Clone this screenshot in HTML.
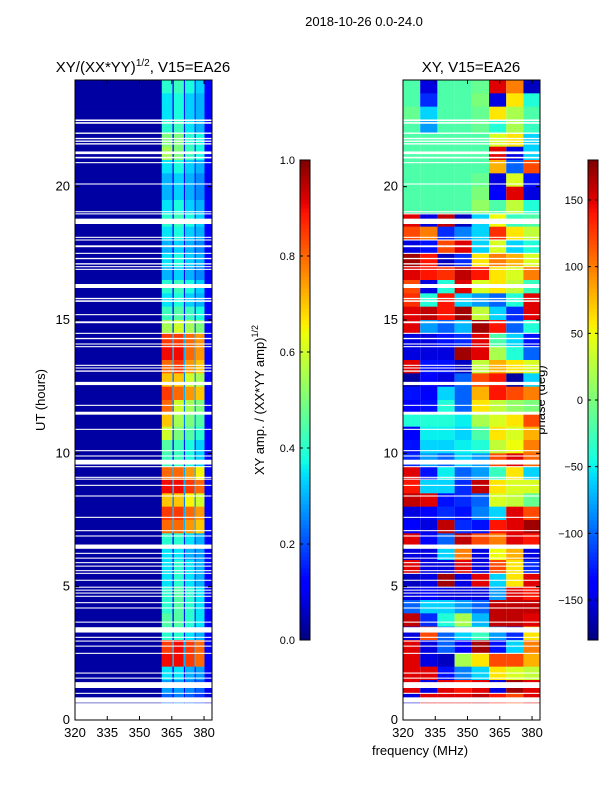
<!DOCTYPE html>
<html><head><meta charset="utf-8"><style>
body{margin:0;background:#fff;width:600px;height:800px;overflow:hidden;font-family:"Liberation Sans","DejaVu Sans",sans-serif}
svg text{font-family:"Liberation Sans","DejaVu Sans",sans-serif}
</style></head><body>
<svg id="c" width="600" height="800" xmlns="http://www.w3.org/2000/svg">
<text x="364" y="26" font-size="13" text-anchor="middle">2018-10-26 0.0-24.0</text>
<text x="143" y="72" font-size="15" text-anchor="middle">XY/(XX*YY)<tspan dy="-6" font-size="10">1/2</tspan><tspan dy="6">, V15=EA26</tspan></text>
<text x="471" y="72" font-size="15" text-anchor="middle">XY, V15=EA26</text>
<text transform="translate(45,400) rotate(-90)" font-size="13" text-anchor="middle">UT (hours)</text>
<text x="420" y="755" font-size="13" text-anchor="middle">frequency (MHz)</text>
<text transform="translate(264,400) rotate(-90)" font-size="13" text-anchor="middle">XY amp. / (XX*YY amp)<tspan dy="-6" font-size="9">1/2</tspan></text>
<text transform="translate(545,400) rotate(-90)" font-size="13" text-anchor="middle">phase (deg)</text>
<g id="g"></g>
</svg>
<script>
// ---- data ----
const hourTicks=[0,5,10,15,20];
const freqTicks=[320,335,350,365,380];
const ampTicks=[0.0,0.2,0.4,0.6,0.8,1.0];
const phaseTicks=[-150,-100,-50,0,50,100,150];
const ampFreqEdges=[320,360.4,365.3,366,370.6,371.2,375.6,376.2,380.2,384];
// rows from 24h down, 0.5 h each; columns = ampFreqEdges bins
const ampRows=[
[.03,.4,.15,.42,.15,.38,.15,.33,.12],[.03,.35,.15,.38,.15,.33,.15,.3,.12],[.03,.35,.15,.38,.15,.33,.15,.3,.12],[.03,.4,.15,.42,.15,.35,.15,.3,.12],
[.03,.5,.15,.5,.15,.4,.15,.38,.12],[.03,.55,.15,.5,.15,.42,.15,.38,.12],[.03,.35,.15,.38,.15,.33,.15,.3,.12],[.03,.3,.12,.33,.12,.3,.12,.26,.1],
[.03,.3,.12,.33,.12,.3,.12,.26,.1],[.03,.35,.15,.38,.15,.33,.15,.3,.12],[.03,.4,.15,.42,.15,.38,.15,.33,.12],[.03,.35,.15,.38,.15,.33,.15,.3,.12],
[.03,.3,.12,.33,.12,.3,.12,.26,.1],[.03,.35,.15,.38,.15,.33,.15,.3,.12],[.03,.3,.12,.33,.12,.3,.12,.26,.1],[.03,.4,.15,.42,.15,.38,.15,.33,.12],
[.03,.35,.15,.38,.15,.33,.15,.3,.12],[.03,.42,.15,.45,.15,.42,.15,.38,.12],[.03,.55,.2,.6,.2,.55,.2,.5,.12],[.03,.85,.3,.85,.3,.8,.3,.75,.12],
[.03,.9,.3,.9,.3,.8,.3,.75,.12],[.03,.8,.3,.85,.3,.75,.3,.7,.12],[.03,.7,.25,.7,.25,.6,.25,.55,.12],[.03,.85,.3,.8,.3,.75,.3,.7,.12],
[.03,.8,.25,.6,.25,.55,.25,.5,.12],[.03,.7,.25,.55,.25,.5,.25,.45,.12],[.03,.6,.2,.5,.2,.45,.2,.4,.12],[.03,.45,.15,.42,.15,.38,.15,.33,.12],
[.03,.42,.15,.42,.15,.38,.15,.33,.12],[.03,.8,.3,.8,.3,.75,.3,.65,.12],[.03,.9,.3,.9,.3,.85,.3,.8,.12],[.03,.7,.25,.7,.25,.65,.25,.6,.12],
[.03,.85,.3,.85,.3,.8,.3,.75,.12],[.03,.8,.3,.8,.3,.75,.3,.7,.12],[.03,.4,.15,.4,.15,.35,.15,.3,.12],[.03,.35,.15,.35,.15,.3,.15,.28,.12],
[.03,.35,.15,.4,.15,.35,.15,.3,.12],[.03,.35,.15,.4,.15,.35,.15,.3,.12],[.03,.4,.15,.45,.15,.4,.15,.35,.12],[.03,.4,.15,.45,.15,.4,.15,.35,.12],
[.03,.45,.15,.45,.15,.4,.15,.35,.12],[.03,.4,.15,.4,.15,.35,.15,.3,.12],[.03,.85,.3,.9,.3,.85,.3,.8,.12],[.03,.9,.3,.9,.3,.85,.3,.8,.12],
[.03,.35,.12,.35,.12,.3,.12,.28,.1],[.03,.28,.12,.28,.12,.26,.12,.22,.1],[.03,.22,.1,.25,.1,.22,.1,.18,.08],[.03,.18,.08,.18,.08,.18,.08,.18,.08]];
const phaseFreqEdges=[320,328,336,344,352,360,368,376,384];
const phaseRows=[
[-20,-150,-20,-20,-10,150,100,-160],[-20,-120,-20,-20,0,-150,60,-40],[-10,-60,-20,-20,-10,60,20,-20],[-20,-80,-20,-20,-10,-40,20,-30],
[-20,-20,-20,-20,-20,40,60,-60],[-20,-20,-20,-20,-20,150,-150,-60],[-20,-20,-20,-20,-20,80,-100,120],[-20,-20,-20,-20,-10,-150,40,-130],
[-20,-20,-20,-20,0,-140,150,-150],[-20,-20,-20,-20,10,-20,30,-40],[150,-150,160,-160,-60,50,-30,-20],[120,100,-120,-90,-60,130,60,30],
[-150,-130,120,150,-60,40,-60,-40],[170,140,-160,-120,60,100,80,40],[150,140,130,160,140,60,40,100],[120,-150,-40,150,40,60,30,-30],
[130,-40,140,-60,-80,-100,-40,150],[150,160,140,170,30,-60,-120,150],[150,-80,-100,-70,170,140,-100,-40],[-150,-150,-130,-120,150,-20,-60,-130],
[-150,-150,-150,170,150,20,-40,-100],[150,-130,-130,-160,30,80,60,40],[-170,-140,-150,-100,120,140,-170,-60],[-130,-140,-60,-100,80,140,120,100],
[-140,-130,-40,-100,60,30,10,0],[-40,-40,-40,-50,20,40,60,120],[-140,-50,-50,-60,-20,60,40,80],[-130,-60,-60,-50,-40,30,50,100],
[-120,-80,-100,-60,-80,120,150,110],[150,-130,-50,-100,-80,-30,60,-60],[140,-60,-60,-120,160,60,40,40],[160,150,-130,-120,-100,40,30,-10],
[-150,-140,-120,-130,-90,-60,150,120],[-140,-150,160,-120,-130,140,150,170],[150,-140,-100,160,120,100,150,140],[-150,-150,-60,100,-150,50,80,-150],
[150,-150,-150,150,-150,120,60,-120],[-160,-150,170,-150,150,-60,60,150],[-150,-140,-150,-150,-150,-80,150,140],[-100,-60,-60,-80,-100,160,160,160],
[160,-120,-40,20,-70,160,160,150],[-150,120,-100,-60,-30,-80,-120,60],[150,-150,-100,-140,170,-130,-60,100],[150,-150,-160,20,60,120,120,80],
[150,150,-130,-90,-60,60,40,30],[150,-150,150,140,150,-150,170,150],[-150,150,150,150,160,140,120,150],[150,150,150,150,150,150,150,150]];
// flagged (blank) time ranges in hours [start,end]
const flagged=[[22.46,22.52],[22.36,22.42],[21.98,22.03],[21.78,21.83],[21.68,21.73],[21.58,21.63],[21.22,21.32],[21.06,21.12],[20.88,20.92],
[20.08,20.12],[19.04,19.08],[18.96,19.0],[18.6,18.8],[18.08,18.12],[17.98,18.02],[17.73,17.8],[17.48,17.52],[17.28,17.33],[17.08,17.13],[16.98,17.02],[16.88,16.92],
[16.2,16.35],[15.78,15.83],[15.68,15.74],[15.18,15.22],[14.88,14.95],[14.48,14.52],[14.28,14.33],[14.08,14.12],[13.98,14.02],[13.28,13.32],[13.18,13.22],[13.06,13.11],
[12.56,12.68],[11.78,11.82],[11.45,11.56],[10.88,10.92],[10.08,10.12],[9.88,9.92],[9.58,9.76],[9.48,9.52],[9.08,9.12],[9.02,9.05],[8.78,8.82],[8.38,8.42],
[7.58,7.62],[7.08,7.12],[6.88,6.92],[6.42,6.58],[6.23,6.27],[6.05,6.09],[5.88,5.92],[5.75,5.79],[5.58,5.62],[5.48,5.52],[5.22,5.26],
[4.96,5.0],[4.85,4.89],[4.74,4.78],[4.62,4.66],[4.38,4.42],[4.18,4.22],[3.65,3.69],[3.28,3.48],[3.08,3.12],[2.94,2.98],[2.75,2.79],[2.48,2.52],
[1.74,1.78],[1.55,1.59],[1.2,1.42],[0.98,1.02],[0.65,0.85],[0,0.63]];

// ---- helpers ----
const NS="http://www.w3.org/2000/svg";
const G=document.getElementById('g');
function jet(v){v=Math.max(0,Math.min(1,v));
 const r=Math.max(0,Math.min(1,v<0.35?0:v<0.66?(v-0.35)/0.31:v<0.89?1:1-(v-0.89)/0.11*0.5));
 const g=Math.max(0,Math.min(1,v<0.125?0:v<0.375?(v-0.125)/0.25:v<0.64?1:v<0.91?1-(v-0.64)/0.27:0));
 const b=Math.max(0,Math.min(1,v<0.11?0.5+v/0.11*0.5:v<0.34?1:v<0.65?1-(v-0.34)/0.31:0));
 return `rgb(${Math.round(r*255)},${Math.round(g*255)},${Math.round(b*255)})`;}
function mk(tag,attrs,parent){const e=document.createElementNS(NS,tag);for(const k in attrs)e.setAttribute(k,attrs[k]);(parent||G).appendChild(e);return e;}
const Y0=720,Y1=80;
const yH=h=>Y0-(h/24)*(Y0-Y1);
function panel(x0,x1,fe,rows,norm,name){
 const xF=f=>x0+(f-320)/(383.7-320)*(x1-x0);
 const g=mk('g',{});
 
 
 const dh=24/rows.length;
 rows.forEach((row,ri)=>{const hTop=24-ri*dh;
  row.forEach((v,ci)=>{const xa=xF(fe[ci]),xb=Math.min(x1,xF(fe[ci+1]));
   const r=mk('rect',{x:xa,y:yH(hTop),width:Math.max(0,xb-xa),height:yH(hTop-dh)-yH(hTop)+0.3,fill:jet(norm(v))},g);
   
   });});
 flagged.forEach(([a,b])=>{const r=mk('rect',{x:x0,y:yH(b),width:x1-x0,height:Math.max(1,yH(a)-yH(b)),fill:'#fff'},g);
  
  });
 const fr=mk('rect',{x:x0,y:Y1,width:x1-x0,height:Y0-Y1,fill:'none',stroke:'#000','stroke-width':1},g);
 
 
 hourTicks.forEach(h=>{const y=yH(h);
  mk('line',{x1:x0,x2:x0+4,y1:y,y2:y,stroke:'#000'},g);mk('line',{x1:x1,x2:x1-4,y1:y,y2:y,stroke:'#000'},g);
  const t=mk('text',{x:x0-5,y:y+4,'font-size':13,'text-anchor':'end'},g);t.textContent=h;
  
  });
 freqTicks.forEach(f=>{const x=xF(f);
  mk('line',{x1:x,x2:x,y1:Y0,y2:Y0-4,stroke:'#000'},g);mk('line',{x1:x,x2:x,y1:Y1,y2:Y1+4,stroke:'#000'},g);
  const t=mk('text',{x:x,y:Y0+17,'font-size':13,'text-anchor':'middle'},g);t.textContent=f;
  
  });
}
panel(75,212,ampFreqEdges,ampRows,v=>v,'amplitude-heatmap');
panel(403,540,phaseFreqEdges,phaseRows,v=>(v+180)/360,'phase-heatmap');
function colorbar(x,lo,hi,ticks,fmt,name){
 const yT=160,yB=640;const g=mk('g',{});
 
 
 for(let i=0;i<120;i++){const y=yB-(i+1)*(yB-yT)/120;mk('rect',{x:x,y:y,width:10,height:(yB-yT)/120+0.5,fill:jet((i+0.5)/120)},g);}
 mk('rect',{x:x,y:yT,width:10,height:yB-yT,fill:'none',stroke:'#000'},g);
 ticks.forEach(v=>{const y=yB-(v-lo)/(hi-lo)*(yB-yT);
  mk('line',{x1:x,x2:x+3,y1:y,y2:y,stroke:'#000'},g);mk('line',{x1:x+10,x2:x+7,y1:y,y2:y,stroke:'#000'},g);
  const t=mk('text',{x:x-5,y:y+4,'font-size':11,'text-anchor':'end'},g);t.textContent=fmt(v);
  
  });
}
colorbar(300,0,1,ampTicks,v=>v.toFixed(1),'amplitude-colorbar');
colorbar(588,-180,180,phaseTicks,v=>v<0?'\u2212'+(-v):String(v),'phase-colorbar');
</script>
</body></html>
